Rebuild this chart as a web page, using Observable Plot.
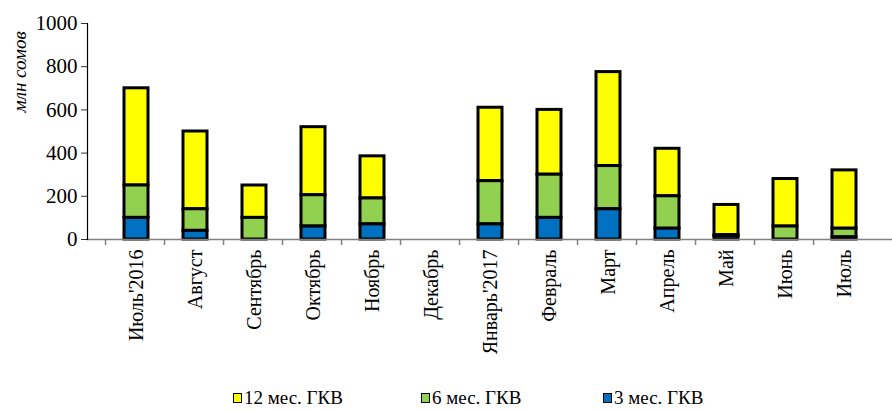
<!DOCTYPE html>
<html><head><meta charset="utf-8">
<style>
body{margin:0;background:#fff;overflow:hidden;font-family:'Liberation Serif';}
.item{position:absolute;top:2px;display:flex;align-items:center;white-space:nowrap;}
.sw{width:7px;height:8px;border:1.5px solid #000;margin-right:2px;}
</style>
<script src="https://cdn.jsdelivr.net/npm/d3@7"></script>
<script src="https://cdn.jsdelivr.net/npm/@observablehq/plot@0.6"></script>
</head><body>
<div id="chart"></div>
<div id="legend" style="position:relative;height:25px;width:892px;font-family:'Liberation Serif';font-size:19px;color:#000;"></div>
<script>
const months = ["Июль'2016","Август","Сентябрь","Октябрь","Ноябрь","Декабрь","Январь'2017","Февраль","Март","Апрель","Май","Июнь","Июль"];
const series = ["12 мес. ГКВ","6 мес. ГКВ","3 мес. ГКВ"];
const m12 = [450,360,150,315,195,0,340,300,435,220,140,220,270];
const m6  = [150,100,100,145,120,0,200,200,200,150,5,60,40];
const m3  = [100,40,0,60,70,0,70,100,140,50,15,0,10];
const colors = ["#FFFF00","#92D050","#0070C0"];
const yTicks = [0,200,400,600,800,1000];

const valuesBySeries = [m12, m6, m3];
const rows = [];
months.forEach((m, i) => {
  series.forEach((s, j) => {
    const v = valuesBySeries[j][i];
    if (v > 0) rows.push({month: m, series: s, value: v});
  });
});

const W = 892, ML = 87, MR = 0;
const bw = (W - ML - MR) / months.length;
const FONT = "Liberation Serif";

const plot = Plot.plot({
  width: W, height: 385,
  marginLeft: ML, marginRight: MR, marginTop: 23, marginBottom: 146,
  style: "font-family: 'Liberation Serif', serif; font-size: 20px; color: #000; background: #fff; overflow: visible;",
  x: {domain: months, padding: 0.6, label: null},
  y: {domain: [0, 1000], label: null},
  color: {domain: series, range: colors},
  marks: [
    Plot.barY(rows, {x: "month", y: "value", fill: "series", stroke: "#000", strokeWidth: 3,
      order: ["3 мес. ГКВ","6 мес. ГКВ","12 мес. ГКВ"]}),
    Plot.ruleY([0], {stroke: "#808080", strokeWidth: 1.5}),
    Plot.frame({anchor: "left", stroke: "#000", strokeWidth: 1.2}),
    Plot.axisY({ticks: yTicks, tickFormat: "d", tickSize: 6, fontSize: 21, tickPadding: 4, label: null, stroke: "#333", fontFamily: FONT}),
    Plot.axisX({tickSize: 0, tickRotate: -90, fontSize: 20, tickPadding: 10, label: null, fontFamily: FONT}),
    Plot.axisX({tickSize: 6, tickFormat: () => "", dx: -bw / 2, stroke: "#808080", strokeWidth: 1.5, label: null}),
    Plot.text(["млн сомов"], {frameAnchor: "left", rotate: -90, dx: -68, dy: -19, fontStyle: "italic", fontSize: 19, fontFamily: FONT})
  ]
});
plot.querySelectorAll("text").forEach(el => el.setAttribute("font-family", "Liberation Serif"));
document.getElementById("chart").appendChild(plot);

const legend = document.getElementById("legend");
const lefts = [233, 421, 603];
series.forEach((s, i) => {
  const it = document.createElement("div");
  it.className = "item";
  it.style.left = lefts[i] + "px";
  const sw = document.createElement("span");
  sw.className = "sw";
  sw.style.background = colors[i];
  it.appendChild(sw);
  const t = document.createElement("span");
  t.textContent = s;
  it.appendChild(t);
  legend.appendChild(it);
});
</script>
</body></html>
